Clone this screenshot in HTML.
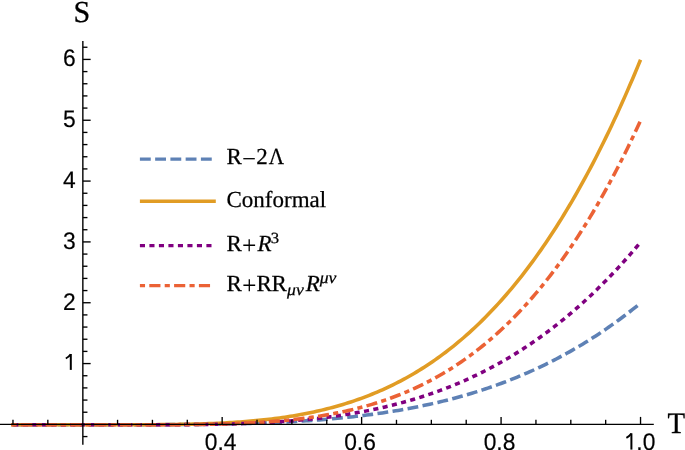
<!DOCTYPE html>
<html><head><meta charset="utf-8"><style>
html,body{margin:0;padding:0;background:#fff;width:685px;height:450px;overflow:hidden;}
svg{display:block;will-change:transform;text-rendering:geometricPrecision;}
</style></head><body><svg width="685" height="450" viewBox="0 0 685 450"><path d="M11.07,424.75 L13.70,424.75 L16.34,424.75 L18.97,424.75 L21.61,424.75 L24.24,424.75 L26.87,424.75 L29.51,424.75 L32.14,424.75 L34.77,424.75 L37.41,424.75 L40.04,424.75 L42.68,424.75 L45.31,424.75 L47.94,424.75 L50.58,424.75 L53.21,424.75 L55.84,424.75 L58.48,424.75 L61.11,424.75 L63.75,424.75 L66.38,424.75 L69.01,424.75 L71.65,424.75 L74.28,424.75 L76.91,424.75 L79.55,424.75 L82.18,424.75 L84.82,424.75 L87.45,424.75 L90.08,424.75 L92.72,424.75 L95.35,424.75 L97.98,424.75 L100.62,424.75 L103.25,424.75 L105.89,424.75 L108.52,424.75 L111.15,424.75 L113.79,424.75 L116.42,424.75 L119.05,424.74 L121.69,424.74 L124.32,424.74 L126.96,424.74 L129.59,424.74 L132.22,424.73 L134.86,424.73 L137.49,424.73 L140.12,424.72 L142.76,424.72 L145.39,424.71 L148.03,424.71 L150.66,424.70 L153.29,424.69 L155.93,424.69 L158.56,424.68 L161.19,424.67 L163.83,424.66 L166.46,424.64 L169.10,424.63 L171.73,424.62 L174.36,424.60 L177.00,424.59 L179.63,424.57 L182.26,424.55 L184.90,424.53 L187.53,424.51 L190.17,424.49 L192.80,424.46 L195.43,424.44 L198.07,424.41 L200.70,424.38 L203.33,424.35 L205.97,424.31 L208.60,424.28 L211.24,424.24 L213.87,424.20 L216.50,424.16 L219.14,424.12 L221.77,424.07 L224.41,424.02 L227.04,423.97 L229.67,423.92 L232.31,423.86 L234.94,423.80 L237.57,423.74 L240.21,423.67 L242.84,423.60 L245.48,423.53 L248.11,423.46 L250.74,423.38 L253.38,423.30 L256.01,423.21 L258.64,423.12 L261.28,423.03 L263.91,422.94 L266.55,422.84 L269.18,422.73 L271.81,422.62 L274.45,422.51 L277.08,422.39 L279.71,422.27 L282.35,422.15 L284.98,422.02 L287.62,421.88 L290.25,421.74 L292.88,421.60 L295.52,421.45 L298.15,421.29 L300.78,421.13 L303.42,420.97 L306.05,420.80 L308.69,420.62 L311.32,420.44 L313.95,420.25 L316.59,420.06 L319.22,419.86 L321.85,419.65 L324.49,419.44 L327.12,419.22 L329.76,418.99 L332.39,418.76 L335.02,418.52 L337.66,418.28 L340.29,418.02 L342.92,417.76 L345.56,417.49 L348.19,417.22 L350.83,416.94 L353.46,416.64 L356.09,416.35 L358.73,416.04 L361.36,415.73 L363.99,415.40 L366.63,415.07 L369.26,414.73 L371.90,414.38 L374.53,414.02 L377.16,413.66 L379.80,413.28 L382.43,412.90 L385.06,412.50 L387.70,412.10 L390.33,411.69 L392.97,411.26 L395.60,410.83 L398.23,410.39 L400.87,409.93 L403.50,409.47 L406.13,408.99 L408.77,408.51 L411.40,408.01 L414.04,407.50 L416.67,406.98 L419.30,406.45 L421.94,405.91 L424.57,405.36 L427.20,404.79 L429.84,404.22 L432.47,403.63 L435.11,403.03 L437.74,402.41 L440.37,401.78 L443.01,401.14 L445.64,400.49 L448.28,399.83 L450.91,399.15 L453.54,398.45 L456.18,397.75 L458.81,397.03 L461.44,396.29 L464.08,395.54 L466.71,394.78 L469.35,394.00 L471.98,393.21 L474.61,392.40 L477.25,391.58 L479.88,390.74 L482.51,389.89 L485.15,389.02 L487.78,388.14 L490.42,387.24 L493.05,386.32 L495.68,385.39 L498.32,384.44 L500.95,383.47 L503.58,382.49 L506.22,381.49 L508.85,380.47 L511.49,379.43 L514.12,378.38 L516.75,377.31 L519.39,376.22 L522.02,375.11 L524.65,373.99 L527.29,372.84 L529.92,371.68 L532.56,370.50 L535.19,369.30 L537.82,368.08 L540.46,366.84 L543.09,365.58 L545.72,364.30 L548.36,363.00 L550.99,361.68 L553.63,360.33 L556.26,358.97 L558.89,357.59 L561.53,356.18 L564.16,354.76 L566.79,353.31 L569.43,351.84 L572.06,350.35 L574.70,348.83 L577.33,347.30 L579.96,345.74 L582.60,344.16 L585.23,342.55 L587.86,340.92 L590.50,339.27 L593.13,337.59 L595.77,335.89 L598.40,334.17 L601.03,332.42 L603.67,330.64 L606.30,328.85 L608.93,327.02 L611.57,325.17 L614.20,323.30 L616.84,321.40 L619.47,319.47 L622.10,317.52 L624.74,315.54 L627.37,313.53 L630.00,311.50 L632.64,309.44 L635.27,307.35 L637.91,305.23 L640.54,303.09" stroke="#5e81b5" stroke-width="3.55" fill="none" stroke-dasharray="10.85 4.4" stroke-dashoffset="-0.85"/><path d="M11.07,424.75 L13.70,424.75 L16.34,424.75 L18.97,424.75 L21.61,424.75 L24.24,424.75 L26.87,424.75 L29.51,424.75 L32.14,424.75 L34.77,424.75 L37.41,424.75 L40.04,424.75 L42.68,424.75 L45.31,424.75 L47.94,424.75 L50.58,424.75 L53.21,424.75 L55.84,424.75 L58.48,424.75 L61.11,424.75 L63.75,424.75 L66.38,424.75 L69.01,424.75 L71.65,424.75 L74.28,424.75 L76.91,424.75 L79.55,424.75 L82.18,424.75 L84.82,424.75 L87.45,424.75 L90.08,424.75 L92.72,424.75 L95.35,424.75 L97.98,424.75 L100.62,424.75 L103.25,424.75 L105.89,424.75 L108.52,424.75 L111.15,424.75 L113.79,424.75 L116.42,424.75 L119.05,424.75 L121.69,424.75 L124.32,424.74 L126.96,424.74 L129.59,424.74 L132.22,424.74 L134.86,424.73 L137.49,424.73 L140.12,424.72 L142.76,424.71 L145.39,424.70 L148.03,424.69 L150.66,424.68 L153.29,424.66 L155.93,424.65 L158.56,424.63 L161.19,424.61 L163.83,424.58 L166.46,424.56 L169.10,424.53 L171.73,424.50 L174.36,424.46 L177.00,424.43 L179.63,424.38 L182.26,424.34 L184.90,424.29 L187.53,424.24 L190.17,424.18 L192.80,424.12 L195.43,424.05 L198.07,423.98 L200.70,423.90 L203.33,423.82 L205.97,423.73 L208.60,423.64 L211.24,423.53 L213.87,423.43 L216.50,423.31 L219.14,423.19 L221.77,423.07 L224.41,422.93 L227.04,422.79 L229.67,422.64 L232.31,422.48 L234.94,422.31 L237.57,422.14 L240.21,421.95 L242.84,421.76 L245.48,421.56 L248.11,421.34 L250.74,421.12 L253.38,420.88 L256.01,420.64 L258.64,420.38 L261.28,420.12 L263.91,419.84 L266.55,419.55 L269.18,419.25 L271.81,418.93 L274.45,418.60 L277.08,418.26 L279.71,417.91 L282.35,417.54 L284.98,417.15 L287.62,416.76 L290.25,416.34 L292.88,415.92 L295.52,415.47 L298.15,415.02 L300.78,414.54 L303.42,414.05 L306.05,413.54 L308.69,413.02 L311.32,412.47 L313.95,411.91 L316.59,411.33 L319.22,410.73 L321.85,410.12 L324.49,409.48 L327.12,408.82 L329.76,408.15 L332.39,407.45 L335.02,406.73 L337.66,405.99 L340.29,405.23 L342.92,404.45 L345.56,403.64 L348.19,402.81 L350.83,401.96 L353.46,401.08 L356.09,400.18 L358.73,399.26 L361.36,398.31 L363.99,397.34 L366.63,396.34 L369.26,395.31 L371.90,394.26 L374.53,393.18 L377.16,392.07 L379.80,390.93 L382.43,389.77 L385.06,388.58 L387.70,387.36 L390.33,386.11 L392.97,384.82 L395.60,383.51 L398.23,382.17 L400.87,380.80 L403.50,379.39 L406.13,377.95 L408.77,376.48 L411.40,374.98 L414.04,373.44 L416.67,371.87 L419.30,370.27 L421.94,368.63 L424.57,366.95 L427.20,365.24 L429.84,363.49 L432.47,361.70 L435.11,359.88 L437.74,358.02 L440.37,356.12 L443.01,354.18 L445.64,352.21 L448.28,350.19 L450.91,348.13 L453.54,346.04 L456.18,343.90 L458.81,341.72 L461.44,339.49 L464.08,337.23 L466.71,334.92 L469.35,332.57 L471.98,330.17 L474.61,327.73 L477.25,325.24 L479.88,322.71 L482.51,320.13 L485.15,317.51 L487.78,314.83 L490.42,312.11 L493.05,309.34 L495.68,306.52 L498.32,303.66 L500.95,300.74 L503.58,297.77 L506.22,294.75 L508.85,291.68 L511.49,288.56 L514.12,285.38 L516.75,282.15 L519.39,278.87 L522.02,275.53 L524.65,272.14 L527.29,268.69 L529.92,265.19 L532.56,261.63 L535.19,258.01 L537.82,254.33 L540.46,250.60 L543.09,246.81 L545.72,242.96 L548.36,239.05 L550.99,235.07 L553.63,231.04 L556.26,226.95 L558.89,222.79 L561.53,218.57 L564.16,214.28 L566.79,209.94 L569.43,205.52 L572.06,201.05 L574.70,196.50 L577.33,191.90 L579.96,187.22 L582.60,182.47 L585.23,177.66 L587.86,172.78 L590.50,167.83 L593.13,162.81 L595.77,157.72 L598.40,152.56 L601.03,147.32 L603.67,142.02 L606.30,136.64 L608.93,131.18 L611.57,125.66 L614.20,120.05 L616.84,114.38 L619.47,108.62 L622.10,102.79 L624.74,96.88 L627.37,90.90 L630.00,84.83 L632.64,78.69 L635.27,72.46 L637.91,66.16 L640.54,59.77" stroke="#e19c24" stroke-width="3.55" fill="none"/><path d="M11.07,424.75 L13.70,424.75 L16.34,424.75 L18.97,424.75 L21.61,424.75 L24.24,424.75 L26.87,424.75 L29.51,424.75 L32.14,424.75 L34.77,424.75 L37.41,424.75 L40.04,424.75 L42.68,424.75 L45.31,424.75 L47.94,424.75 L50.58,424.75 L53.21,424.75 L55.84,424.75 L58.48,424.75 L61.11,424.75 L63.75,424.75 L66.38,424.75 L69.01,424.75 L71.65,424.75 L74.28,424.75 L76.91,424.75 L79.55,424.75 L82.18,424.75 L84.82,424.75 L87.45,424.75 L90.08,424.75 L92.72,424.75 L95.35,424.75 L97.98,424.75 L100.62,424.75 L103.25,424.75 L105.89,424.75 L108.52,424.75 L111.15,424.75 L113.79,424.75 L116.42,424.75 L119.05,424.75 L121.69,424.75 L124.32,424.75 L126.96,424.75 L129.59,424.75 L132.22,424.75 L134.86,424.75 L137.49,424.75 L140.12,424.75 L142.76,424.75 L145.39,424.75 L148.03,424.75 L150.66,424.75 L153.29,424.74 L155.93,424.74 L158.56,424.74 L161.19,424.73 L163.83,424.73 L166.46,424.72 L169.10,424.71 L171.73,424.70 L174.36,424.70 L177.00,424.68 L179.63,424.67 L182.26,424.66 L184.90,424.64 L187.53,424.62 L190.17,424.60 L192.80,424.58 L195.43,424.56 L198.07,424.53 L200.70,424.50 L203.33,424.47 L205.97,424.43 L208.60,424.39 L211.24,424.35 L213.87,424.31 L216.50,424.26 L219.14,424.21 L221.77,424.16 L224.41,424.10 L227.04,424.04 L229.67,423.97 L232.31,423.90 L234.94,423.83 L237.57,423.75 L240.21,423.66 L242.84,423.57 L245.48,423.48 L248.11,423.38 L250.74,423.28 L253.38,423.17 L256.01,423.05 L258.64,422.93 L261.28,422.81 L263.91,422.67 L266.55,422.53 L269.18,422.39 L271.81,422.24 L274.45,422.08 L277.08,421.91 L279.71,421.74 L282.35,421.56 L284.98,421.37 L287.62,421.18 L290.25,420.98 L292.88,420.76 L295.52,420.55 L298.15,420.32 L300.78,420.08 L303.42,419.84 L306.05,419.59 L308.69,419.32 L311.32,419.05 L313.95,418.77 L316.59,418.48 L319.22,418.18 L321.85,417.87 L324.49,417.55 L327.12,417.22 L329.76,416.88 L332.39,416.53 L335.02,416.16 L337.66,415.79 L340.29,415.40 L342.92,415.01 L345.56,414.60 L348.19,414.18 L350.83,413.74 L353.46,413.30 L356.09,412.84 L358.73,412.37 L361.36,411.89 L363.99,411.39 L366.63,410.88 L369.26,410.36 L371.90,409.82 L374.53,409.27 L377.16,408.71 L379.80,408.13 L382.43,407.54 L385.06,406.93 L387.70,406.31 L390.33,405.67 L392.97,405.01 L395.60,404.34 L398.23,403.66 L400.87,402.96 L403.50,402.24 L406.13,401.51 L408.77,400.76 L411.40,399.99 L414.04,399.21 L416.67,398.40 L419.30,397.58 L421.94,396.75 L424.57,395.89 L427.20,395.02 L429.84,394.13 L432.47,393.22 L435.11,392.29 L437.74,391.34 L440.37,390.37 L443.01,389.39 L445.64,388.38 L448.28,387.35 L450.91,386.30 L453.54,385.24 L456.18,384.15 L458.81,383.04 L461.44,381.91 L464.08,380.76 L466.71,379.59 L469.35,378.39 L471.98,377.17 L474.61,375.93 L477.25,374.67 L479.88,373.39 L482.51,372.08 L485.15,370.75 L487.78,369.40 L490.42,368.02 L493.05,366.62 L495.68,365.19 L498.32,363.74 L500.95,362.26 L503.58,360.76 L506.22,359.24 L508.85,357.69 L511.49,356.11 L514.12,354.51 L516.75,352.88 L519.39,351.23 L522.02,349.54 L524.65,347.84 L527.29,346.10 L529.92,344.34 L532.56,342.55 L535.19,340.73 L537.82,338.88 L540.46,337.01 L543.09,335.11 L545.72,333.18 L548.36,331.21 L550.99,329.22 L553.63,327.20 L556.26,325.15 L558.89,323.07 L561.53,320.96 L564.16,318.82 L566.79,316.65 L569.43,314.45 L572.06,312.21 L574.70,309.95 L577.33,307.65 L579.96,305.32 L582.60,302.96 L585.23,300.56 L587.86,298.14 L590.50,295.68 L593.13,293.18 L595.77,290.65 L598.40,288.09 L601.03,285.49 L603.67,282.86 L606.30,280.20 L608.93,277.50 L611.57,274.76 L614.20,271.99 L616.84,269.18 L619.47,266.34 L622.10,263.46 L624.74,260.54 L627.37,257.59 L630.00,254.60 L632.64,251.57 L635.27,248.51 L637.91,245.40 L640.54,242.26" stroke="#800080" stroke-width="3.55" fill="none" stroke-dasharray="5.1 4.4" stroke-dashoffset="-2.2"/><path d="M11.07,424.75 L13.70,424.75 L16.34,424.75 L18.97,424.75 L21.61,424.75 L24.24,424.75 L26.87,424.75 L29.51,424.75 L32.14,424.75 L34.77,424.75 L37.41,424.75 L40.04,424.75 L42.68,424.75 L45.31,424.75 L47.94,424.75 L50.58,424.75 L53.21,424.75 L55.84,424.75 L58.48,424.75 L61.11,424.75 L63.75,424.75 L66.38,424.75 L69.01,424.75 L71.65,424.75 L74.28,424.75 L76.91,424.75 L79.55,424.75 L82.18,424.75 L84.82,424.75 L87.45,424.75 L90.08,424.75 L92.72,424.75 L95.35,424.75 L97.98,424.75 L100.62,424.75 L103.25,424.75 L105.89,424.75 L108.52,424.75 L111.15,424.75 L113.79,424.75 L116.42,424.75 L119.05,424.75 L121.69,424.75 L124.32,424.75 L126.96,424.75 L129.59,424.75 L132.22,424.75 L134.86,424.75 L137.49,424.75 L140.12,424.75 L142.76,424.74 L145.39,424.74 L148.03,424.74 L150.66,424.74 L153.29,424.73 L155.93,424.73 L158.56,424.72 L161.19,424.72 L163.83,424.71 L166.46,424.70 L169.10,424.69 L171.73,424.68 L174.36,424.66 L177.00,424.65 L179.63,424.63 L182.26,424.61 L184.90,424.59 L187.53,424.57 L190.17,424.54 L192.80,424.51 L195.43,424.48 L198.07,424.45 L200.70,424.41 L203.33,424.37 L205.97,424.33 L208.60,424.28 L211.24,424.23 L213.87,424.18 L216.50,424.12 L219.14,424.06 L221.77,423.99 L224.41,423.92 L227.04,423.84 L229.67,423.76 L232.31,423.67 L234.94,423.58 L237.57,423.48 L240.21,423.37 L242.84,423.26 L245.48,423.14 L248.11,423.02 L250.74,422.89 L253.38,422.75 L256.01,422.60 L258.64,422.45 L261.28,422.28 L263.91,422.11 L266.55,421.94 L269.18,421.75 L271.81,421.55 L274.45,421.35 L277.08,421.13 L279.71,420.90 L282.35,420.67 L284.98,420.42 L287.62,420.17 L290.25,419.90 L292.88,419.62 L295.52,419.33 L298.15,419.03 L300.78,418.71 L303.42,418.38 L306.05,418.04 L308.69,417.69 L311.32,417.32 L313.95,416.94 L316.59,416.55 L319.22,416.14 L321.85,415.71 L324.49,415.27 L327.12,414.81 L329.76,414.34 L332.39,413.86 L335.02,413.35 L337.66,412.83 L340.29,412.29 L342.92,411.73 L345.56,411.16 L348.19,410.57 L350.83,409.95 L353.46,409.32 L356.09,408.67 L358.73,408.00 L361.36,407.31 L363.99,406.60 L366.63,405.86 L369.26,405.11 L371.90,404.33 L374.53,403.53 L377.16,402.71 L379.80,401.86 L382.43,401.00 L385.06,400.10 L387.70,399.19 L390.33,398.24 L392.97,397.27 L395.60,396.28 L398.23,395.26 L400.87,394.21 L403.50,393.14 L406.13,392.04 L408.77,390.91 L411.40,389.75 L414.04,388.57 L416.67,387.35 L419.30,386.10 L421.94,384.83 L424.57,383.52 L427.20,382.18 L429.84,380.81 L432.47,379.41 L435.11,377.98 L437.74,376.51 L440.37,375.01 L443.01,373.47 L445.64,371.90 L448.28,370.30 L450.91,368.66 L453.54,366.98 L456.18,365.26 L458.81,363.51 L461.44,361.72 L464.08,359.90 L466.71,358.03 L469.35,356.13 L471.98,354.18 L474.61,352.20 L477.25,350.17 L479.88,348.10 L482.51,346.00 L485.15,343.84 L487.78,341.65 L490.42,339.41 L493.05,337.13 L495.68,334.80 L498.32,332.43 L500.95,330.01 L503.58,327.55 L506.22,325.04 L508.85,322.48 L511.49,319.87 L514.12,317.22 L516.75,314.51 L519.39,311.76 L522.02,308.96 L524.65,306.10 L527.29,303.19 L529.92,300.24 L532.56,297.22 L535.19,294.16 L537.82,291.04 L540.46,287.87 L543.09,284.64 L545.72,281.35 L548.36,278.01 L550.99,274.62 L553.63,271.16 L556.26,267.65 L558.89,264.08 L561.53,260.44 L564.16,256.75 L566.79,253.00 L569.43,249.19 L572.06,245.31 L574.70,241.37 L577.33,237.37 L579.96,233.31 L582.60,229.17 L585.23,224.98 L587.86,220.72 L590.50,216.39 L593.13,211.99 L595.77,207.53 L598.40,203.00 L601.03,198.40 L603.67,193.73 L606.30,188.98 L608.93,184.17 L611.57,179.29 L614.20,174.33 L616.84,169.30 L619.47,164.19 L622.10,159.01 L624.74,153.76 L627.37,148.43 L630.00,143.02 L632.64,137.53 L635.27,131.97 L637.91,126.32 L640.54,120.60" stroke="#eb6235" stroke-width="3.55" fill="none" stroke-dasharray="5.15 4.25 11.15 4.25" stroke-dashoffset="-0.35"/><g stroke="#000" fill="none"><path d="M0 424.4H653.8" stroke-width="1.15"/><path d="M82.85 41V444.7" stroke-width="1.4"/><path d="M12.97 424.4V419.79999999999995" stroke-width="1.35"/><path d="M47.83 424.4V419.79999999999995" stroke-width="1.35"/><path d="M117.56 424.4V419.79999999999995" stroke-width="1.35"/><path d="M152.43 424.4V419.79999999999995" stroke-width="1.35"/><path d="M187.29 424.4V419.79999999999995" stroke-width="1.35"/><path d="M222.16 424.4V416.9" stroke-width="1.35"/><path d="M257.02 424.4V419.79999999999995" stroke-width="1.35"/><path d="M291.89 424.4V419.79999999999995" stroke-width="1.35"/><path d="M326.75 424.4V419.79999999999995" stroke-width="1.35"/><path d="M361.62 424.4V416.9" stroke-width="1.35"/><path d="M396.48 424.4V419.79999999999995" stroke-width="1.35"/><path d="M431.35 424.4V419.79999999999995" stroke-width="1.35"/><path d="M466.21 424.4V419.79999999999995" stroke-width="1.35"/><path d="M501.08 424.4V416.9" stroke-width="1.35"/><path d="M535.94 424.4V419.79999999999995" stroke-width="1.35"/><path d="M570.81 424.4V419.79999999999995" stroke-width="1.35"/><path d="M605.67 424.4V419.79999999999995" stroke-width="1.35"/><path d="M640.54 424.4V416.9" stroke-width="1.35"/><path d="M82.85 436.57H87.44999999999999" stroke-width="1.35"/><path d="M82.85 412.23H87.44999999999999" stroke-width="1.35"/><path d="M82.85 400.07H87.44999999999999" stroke-width="1.35"/><path d="M82.85 387.90H87.44999999999999" stroke-width="1.35"/><path d="M82.85 375.74H87.44999999999999" stroke-width="1.35"/><path d="M82.85 363.57H90.64999999999999" stroke-width="1.35"/><path d="M82.85 351.40H87.44999999999999" stroke-width="1.35"/><path d="M82.85 339.24H87.44999999999999" stroke-width="1.35"/><path d="M82.85 327.07H87.44999999999999" stroke-width="1.35"/><path d="M82.85 314.91H87.44999999999999" stroke-width="1.35"/><path d="M82.85 302.74H90.64999999999999" stroke-width="1.35"/><path d="M82.85 290.57H87.44999999999999" stroke-width="1.35"/><path d="M82.85 278.41H87.44999999999999" stroke-width="1.35"/><path d="M82.85 266.24H87.44999999999999" stroke-width="1.35"/><path d="M82.85 254.08H87.44999999999999" stroke-width="1.35"/><path d="M82.85 241.91H90.64999999999999" stroke-width="1.35"/><path d="M82.85 229.74H87.44999999999999" stroke-width="1.35"/><path d="M82.85 217.58H87.44999999999999" stroke-width="1.35"/><path d="M82.85 205.41H87.44999999999999" stroke-width="1.35"/><path d="M82.85 193.25H87.44999999999999" stroke-width="1.35"/><path d="M82.85 181.08H90.64999999999999" stroke-width="1.35"/><path d="M82.85 168.91H87.44999999999999" stroke-width="1.35"/><path d="M82.85 156.75H87.44999999999999" stroke-width="1.35"/><path d="M82.85 144.58H87.44999999999999" stroke-width="1.35"/><path d="M82.85 132.42H87.44999999999999" stroke-width="1.35"/><path d="M82.85 120.25H90.64999999999999" stroke-width="1.35"/><path d="M82.85 108.08H87.44999999999999" stroke-width="1.35"/><path d="M82.85 95.92H87.44999999999999" stroke-width="1.35"/><path d="M82.85 83.75H87.44999999999999" stroke-width="1.35"/><path d="M82.85 71.59H87.44999999999999" stroke-width="1.35"/><path d="M82.85 59.42H90.64999999999999" stroke-width="1.35"/><path d="M82.85 47.25H87.44999999999999" stroke-width="1.35"/></g><g font-family="Liberation Sans, sans-serif" font-size="24" fill="#000" stroke="#000" stroke-width="0.2"><text transform="translate(75.7 309.54) scale(0.95 1)" text-anchor="end">2</text><text transform="translate(75.7 248.71) scale(0.95 1)" text-anchor="end">3</text><text transform="translate(75.7 187.88) scale(0.95 1)" text-anchor="end">4</text><text transform="translate(75.7 127.05) scale(0.95 1)" text-anchor="end">5</text><text transform="translate(75.7 66.22) scale(0.95 1)" text-anchor="end">6</text><text transform="translate(220.56 449.6) scale(0.95 1)" text-anchor="middle">0.4</text><text transform="translate(360.02 449.6) scale(0.95 1)" text-anchor="middle">0.6</text><text transform="translate(499.48 449.6) scale(0.95 1)" text-anchor="middle">0.8</text><text transform="translate(636.3 449.6) scale(0.95 1)">.0</text></g><g stroke="#000" fill="none"><path d="M70.80 369.90V354.00" stroke-width="2.0"/><path d="M70.70 354.20C69.50 356.00 68.00 357.40 65.80 358.50" stroke-width="1.9"/><path d="M631.40 449.60V433.30" stroke-width="2.0"/><path d="M631.30 433.50C630.10 435.30 628.60 436.70 626.40 437.80" stroke-width="1.9"/></g><g font-family="Liberation Serif, serif" font-size="30" fill="#000" stroke="#000" stroke-width="0.3"><text transform="translate(73.5 21.6) scale(1 1.015)">S</text><text transform="translate(667.5 432.75) scale(0.96 0.99)">T</text></g><path d="M139.9 159.1H211.8" stroke="#5e81b5" stroke-width="3.4" stroke-dasharray="10.85 4.4"/><path d="M139.9 201.3H215.8" stroke="#e19c24" stroke-width="3.4"/><path d="M139.9 245.6H215" stroke="#800080" stroke-width="3.4" stroke-dasharray="5.1 4.4"/><path d="M139.9 285.6H212" stroke="#eb6235" stroke-width="3.4" stroke-dasharray="5.15 4.25 11.15 4.25"/><g font-family="Liberation Serif, serif" font-size="23" fill="#000" stroke="#000" stroke-width="0.25"><text x="226.6" y="164.3">R</text><text x="256.2" y="164.3">2</text><text transform="translate(268.7 164.3) scale(0.92 1)">Λ</text><text x="226.5" y="207.2">Conformal</text><text x="226.4" y="251.1">R</text><text x="257.4" y="251.1" font-style="italic">R</text><text transform="translate(270.7 242.6) scale(1.08 1)" font-size="15.5">3</text><text x="226.4" y="291.1">R</text><text x="256.5" y="291.1">R</text><text x="271.5" y="291.1">R</text><text transform="translate(287.1 294.7) scale(1.07 1)" font-size="16.5" font-style="italic">μν</text><text x="305.8" y="291.1" font-style="italic">R</text><text transform="translate(319.7 282.9) scale(1.07 1)" font-size="16.5" font-style="italic">μν</text></g><path d="M243.30 158.70H254.80" stroke="#000" stroke-width="1.3" fill="none"/><path d="M243.30 245.25H255.10M249.20 239.35V251.15" stroke="#000" stroke-width="1.3" fill="none"/><path d="M243.40 285.25H255.20M249.30 279.35V291.15" stroke="#000" stroke-width="1.3" fill="none"/></svg></body></html>
